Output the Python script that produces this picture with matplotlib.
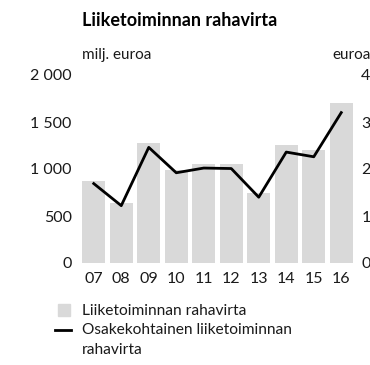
import matplotlib
matplotlib.use("Agg")
import matplotlib.pyplot as plt
from matplotlib.lines import Line2D
from matplotlib.patches import Rectangle

plt.rcParams['font.family'] = ['Lato', 'DejaVu Sans']

years = ["07", "08", "09", "10", "11", "12", "13", "14", "15", "16"]
cash_flow = [875, 640, 1280, 990, 1055, 1055, 750, 1260, 1205, 1705]   # milj. euroa
cash_flow_per_share = [1.69, 1.22, 2.46, 1.92, 2.02, 2.01, 1.40, 2.36, 2.26, 3.20]  # euroa
left_ticks = [0, 500, 1000, 1500, 2000]
left_labels = ["0", "500", "1 000", "1 500", "2 000"]
right_ticks = [0, 1, 2, 3, 4]

BAR = "#d9d9d9"
TXT = "#1a1a1a"
W, H = 370, 365


def fx(px):
    return px / W


def fy(py):
    return 1 - py / H


fig = plt.figure(figsize=(W / 100, H / 100), dpi=100)
ax = fig.add_axes([fx(80), fy(263), 275 / W, (263 - 75) / H])
x = range(len(years))
ax.bar(x, cash_flow, width=0.84, color=BAR, zorder=1)
ax.set_xlim(-0.5, len(years) - 0.5)
ax.set_ylim(0, 2000)
ax.set_yticks(left_ticks)
ax.set_yticklabels(left_labels)
ax.set_xticks(list(x))
ax.set_xticklabels(years)
for s in ax.spines.values():
    s.set_visible(False)
ax.tick_params(length=0, labelsize=11.5, colors=TXT)
ax.tick_params(axis='y', pad=6)
ax.tick_params(axis='x', pad=6.5)

ax2 = ax.twinx()
ax2.plot(list(x), cash_flow_per_share, color="black", lw=2, zorder=3)
ax2.set_ylim(0, 4)
ax2.set_yticks(right_ticks)
ax2.set_yticklabels([str(t) for t in right_ticks])
for s in ax2.spines.values():
    s.set_visible(False)
ax2.tick_params(length=0, labelsize=11.5, colors=TXT, pad=4.5)

fig.text(fx(82), fy(20), "Liiketoiminnan rahavirta", fontsize=13,
         fontweight="bold", color="black", va="center", ha="left")
fig.text(fx(82), fy(55), "milj. euroa", fontsize=11, color=TXT,
         va="center", ha="left")
fig.text(fx(332), fy(55), "euroa", fontsize=11, color=TXT,
         va="center", ha="left")

# legend
fig.patches.append(Rectangle((fx(58), fy(316)), 12 / W, 12 / H,
                             transform=fig.transFigure, color=BAR))
fig.lines.append(Line2D([fx(55), fx(71)], [fy(330), fy(330)],
                        transform=fig.transFigure, color="black", lw=2))
fig.text(fx(82), fy(311), "Liiketoiminnan rahavirta", fontsize=11.2,
         color=TXT, va="center", ha="left")
fig.text(fx(82), fy(330), "Osakekohtainen liiketoiminnan", fontsize=11.2,
         color=TXT, va="center", ha="left")
fig.text(fx(82), fy(350), "rahavirta", fontsize=11.2,
         color=TXT, va="center", ha="left")

fig.savefig("out.png", dpi=100)
